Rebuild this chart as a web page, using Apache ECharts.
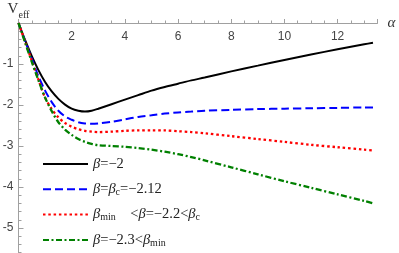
<!DOCTYPE html>
<html>
<head>
<meta charset="utf-8">
<script src="https://cdn.jsdelivr.net/npm/echarts@6/dist/echarts.min.js"></script>
<style>html,body{margin:0;padding:0;background:#fff}#c{width:399px;height:253px}</style>
</head>
<body>
<div id="c"></div>
<script>
const alpha = [0,0.25,0.5,0.75,1,1.25,1.5,1.75,2,2.25,2.5,2.75,3,3.5,4,4.5,5,5.5,6,6.5,7,8,9,10,11,12,13,13.33];
const vBlack = [0,-0.42,-0.81,-1.15,-1.44,-1.67,-1.85,-1.99,-2.09,-2.14,-2.16,-2.14,-2.09,-1.98,-1.87,-1.76,-1.65,-1.56,-1.48,-1.40,-1.33,-1.18,-1.04,-0.90,-0.77,-0.64,-0.52,-0.48];
const vBlue = [0,-0.44,-0.87,-1.30,-1.65,-1.93,-2.14,-2.28,-2.36,-2.42,-2.45,-2.46,-2.45,-2.41,-2.35,-2.29,-2.25,-2.21,-2.18,-2.16,-2.14,-2.12,-2.10,-2.09,-2.08,-2.07,-2.06,-2.06];
const vRed = [0,-0.46,-0.92,-1.38,-1.82,-2.10,-2.30,-2.44,-2.53,-2.59,-2.63,-2.65,-2.66,-2.65,-2.63,-2.62,-2.62,-2.62,-2.64,-2.66,-2.69,-2.76,-2.83,-2.90,-2.97,-3.03,-3.09,-3.11];
const vGreen = [0,-0.48,-0.95,-1.40,-1.82,-2.15,-2.42,-2.60,-2.73,-2.83,-2.90,-2.95,-2.98,-3.00,-3.02,-3.05,-3.09,-3.14,-3.20,-3.27,-3.35,-3.52,-3.69,-3.86,-4.02,-4.18,-4.34,-4.40];
const seriesNames = ['b1','b2','b3','b4'];
const legendLabels = {
  b1: '{i|β}{n|=−2}',
  b2: '{i|β}{n|=}{i|β}{s|c}{n|=−2.12}',
  b3: '{i|β}{s|min}{n|\u2002\u2002<}{i|β}{n|=−2.2<}{i|β}{s|c}',
  b4: '{i|β}{n|=−2.3<}{i|β}{s|min}'
};
const pair = ys => alpha.map((a,i)=>[a, ys[i]]);

const chart = echarts.init(document.getElementById('c'), null, {renderer:'canvas'});
const axisColor = '#a0a0a0';
const labelColor = '#444';
const lineCommon = {type: 'line', smooth: 0.3, showSymbol: false, symbol: 'none'};
chart.setOption({
  animation: false,
  grid: {left: 18.5, width: 359, top: 23, height: 246, outerBoundsMode: 'none', containLabel: false},
  xAxis: {
    type: 'value', position: 'top', min: 0, max: 13.5, interval: 2,
    name: 'α', nameLocation: 'end', nameGap: 10,
    nameTextStyle: {fontFamily: 'Liberation Serif', fontStyle: 'italic', fontSize: 15, color: '#333'},
    axisLine: {show: true, onZero: false, lineStyle: {color: axisColor, width: 1}},
    axisTick: {show: true, inside: false, length: 4, lineStyle: {color: axisColor}},
    minorTick: {show: true, splitNumber: 4, length: 2.5, lineStyle: {color: axisColor}},
    axisLabel: {inside: true, margin: 8, showMinLabel: false, showMaxLabel: false,
      fontFamily: 'Liberation Sans', fontSize: 12, color: labelColor,
      formatter: v => (v === 0 || v > 12.5) ? '' : String(v)},
    splitLine: {show: false}
  },
  yAxis: {
    type: 'value', min: -6, max: 0, interval: 1,
    name: '{v|V}{e|eff}', nameLocation: 'end', nameGap: 6,
    nameTextStyle: {align: 'center', rich: {
      v: {fontFamily: 'Liberation Serif', fontSize: 15, color: '#333', lineHeight: 16, verticalAlign: 'bottom'},
      e: {fontFamily: 'Liberation Serif', fontSize: 10, color: '#333', lineHeight: 10, verticalAlign: 'bottom', padding: [0,0,-3,0]}
    }},
    axisLine: {show: true, onZero: false, lineStyle: {color: axisColor, width: 1}},
    axisTick: {show: true, inside: true, length: 5, lineStyle: {color: axisColor}},
    minorTick: {show: true, splitNumber: 5, length: 3, lineStyle: {color: axisColor}},
    axisLabel: {margin: 5, showMaxLabel: false, fontFamily: 'Liberation Sans', fontSize: 12, color: labelColor,
      formatter: v => v === 0 ? '' : String(v)},
    splitLine: {show: false}
  },
  legend: {
    orient: 'vertical', left: 42, top: 156, width: 250, height: 100, itemWidth: 45, itemHeight: 14, itemGap: 9.3,
    padding: 0,
    data: seriesNames,
    formatter: n => legendLabels[n],
    itemStyle: {color: 'rgba(0,0,0,0)', borderColor: 'rgba(0,0,0,0)', borderWidth: 0, opacity: 0},
    textStyle: {
      fontFamily: 'Liberation Serif', fontSize: 14, color: '#222', lineHeight: 16,
      rich: {
        i: {fontFamily: 'Liberation Serif', fontStyle: 'italic', fontSize: 14.5, lineHeight: 16},
        n: {fontFamily: 'Liberation Serif', fontSize: 14.5, lineHeight: 16},
        s: {fontFamily: 'Liberation Serif', fontSize: 10, lineHeight: 10, verticalAlign: 'bottom'}
      }
    }
  },
  series: [
    Object.assign({name: 'b1', data: pair(vBlack), lineStyle: {color: '#000', width: 2, type: 'solid'}, itemStyle: {color: '#000'}}, lineCommon),
    Object.assign({name: 'b2', data: pair(vBlue), lineStyle: {color: '#0000ff', width: 2, type: [8,4]}, itemStyle: {color: '#0000ff'}}, lineCommon),
    Object.assign({name: 'b3', data: pair(vRed), lineStyle: {color: '#ff0000', width: 2.3, type: [2.5,2.8]}, itemStyle: {color: '#ff0000'}}, lineCommon),
    Object.assign({name: 'b4', data: pair(vGreen), lineStyle: {color: '#008000', width: 2.3, type: [6,2.5,2,2.5]}, itemStyle: {color: '#008000'}}, lineCommon)
  ]
});
</script>
</body>
</html>
